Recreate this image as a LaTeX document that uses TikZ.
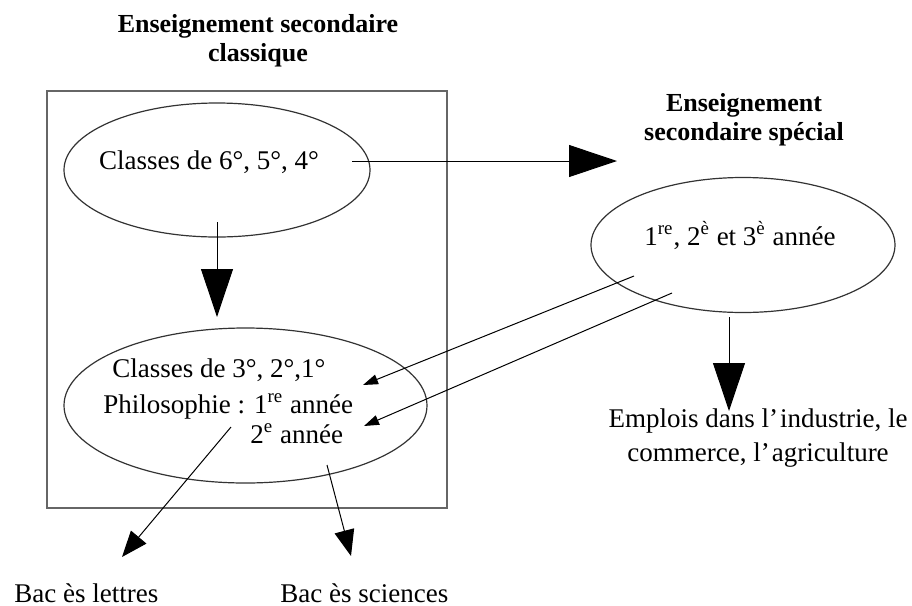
\documentclass[tikz,border=0pt]{standalone}
\usepackage{fontspec}
\setmainfont{Liberation Serif}
\usetikzlibrary{shapes.geometric,arrows.meta}
\begin{document}
\begin{tikzpicture}[x=0.5pt,y=-0.5pt,inner sep=0pt,font=\fontsize{13.5}{17}\selectfont,
 ell/.style={ellipse,draw=black!80,line width=0.6pt},
 titre/.style={font=\fontsize{13}{14.5}\selectfont\bfseries,align=center},
 big/.style={-{Triangle[length=24pt,width=16pt]}},
 mid/.style={-{Triangle[length=13pt,width=10pt]}},
 small/.style={-{Triangle[length=7.5pt,width=5pt]}}]
\useasboundingbox (0,0) rectangle (912,606);

\draw[black!60,line width=0.8pt] (47,91) rectangle (447,508);

\node[titre] (t1) at (258,41) {Enseignement secondaire\\classique};
\node[titre] (t2) at (744,120) {Enseignement\\secondaire spécial};

\node[ell,minimum width=153pt,minimum height=67pt] (e1) at (217,170) {};
\node[ell,minimum width=181.5pt,minimum height=77.5pt] (e2) at (245.5,405.5) {};
\node[ell,minimum width=152pt,minimum height=67.5pt] (e3) at (743,245) {};

\node[anchor=base] (a1) at (209,169) {Classes de 6°, 5°, 4°};
\node[anchor=base west] (a2) at (112,377) {Classes de 3°, 2°,1°};
\node[anchor=base west] (a3) at (103,413) {Philosophie : 1\textsuperscript{re} année};
\node[anchor=base west] (a4) at (250,443) {2\textsuperscript{e} année};
\node[anchor=base] (a5) at (740,245) {1\textsuperscript{re}, 2\textsuperscript{è} et 3\textsuperscript{è} année};

\node[align=center] (b1) at (758,438) {Emplois dans l’\kern1pt industrie, le\\commerce, l’\kern1pt agriculture};
\node[anchor=base west] (b2) at (14,602) {Bac ès lettres};
\node[anchor=base west] (b3) at (280,602) {Bac ès sciences};

\coordinate (p1) at (352,161);
\coordinate (p2) at (617,161);
\coordinate (p3) at (217,222);
\coordinate (p4) at (217,317);
\coordinate (p5) at (729,317);
\coordinate (p6) at (729,411);
\coordinate (q1) at (634,276);
\coordinate (q2) at (363,385);
\coordinate (q3) at (672,293);
\coordinate (q4) at (364,426);
\coordinate (r1) at (231,427);
\coordinate (r2) at (122,557);
\coordinate (r3) at (327,465);
\coordinate (r4) at (351,556);

\begin{scope}[line width=0.5pt]
\draw[big] (p1)--(p2);
\draw[big] (p3)--(p4);
\draw[big] (p5)--(p6);
\foreach \s/\t in {q1/q2,q3/q4}
\draw[small] (\s)--(\t);
\foreach \s/\t in {r1/r2,r3/r4}
\draw[mid] (\s)--(\t);
\end{scope}
\end{tikzpicture}
\end{document}
